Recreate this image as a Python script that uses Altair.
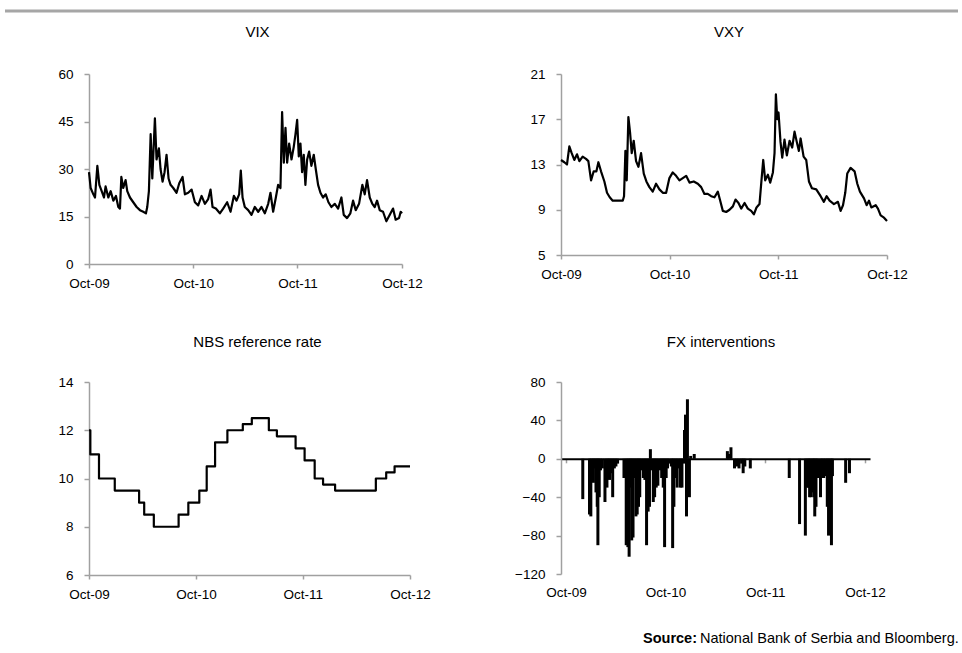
import altair as alt
import pandas as pd
import numpy as np

FONT = "Liberation Sans"
AX_GRAY = "#a0a0a0"

# ---------------- data (x = months since 1 Oct 2009) ----------------
vix_m = [0.0, 0.19, 0.5, 0.69, 0.96, 1.19, 1.46, 1.72, 1.91, 2.22,
         2.49, 2.8, 3.1, 3.37, 3.56, 3.72, 3.94, 4.21, 4.4, 4.71,
         5.09, 5.48, 5.86, 6.24, 6.55, 6.7, 6.89, 7.09, 7.28, 7.58,
         7.77, 8.04, 8.23, 8.46, 8.69, 8.92, 9.15, 9.38, 9.69, 10.07,
         10.38, 10.76, 11.03, 11.41, 11.8, 12.18, 12.56, 12.95, 13.33, 13.71,
         13.98, 14.21, 14.59, 15.05, 15.43, 15.89, 16.28, 16.66, 16.97, 17.27,
         17.46, 17.66, 17.92, 18.31, 18.69, 19.07, 19.46, 19.84, 20.22, 20.61,
         20.87, 21.18, 21.49, 21.75, 22.02, 22.21, 22.41, 22.6, 22.79, 23.02,
         23.29, 23.55, 23.75, 23.94, 24.13, 24.32, 24.51, 24.7, 24.89, 25.09,
         25.32, 25.58, 25.85, 26.08, 26.35, 26.62, 26.92, 27.23, 27.54, 27.88,
         28.27, 28.65, 29.03, 29.3, 29.68, 30.06, 30.37, 30.68, 31.06, 31.44,
         31.71, 31.98, 32.29, 32.59, 32.86, 33.13, 33.44, 33.82, 34.2, 34.58,
         34.97, 35.27, 35.66, 35.85, 36.0]
vix_v = [29, 24, 22, 21, 31, 25, 23, 21, 24.5, 21,
         23, 20, 21.5, 18, 17.5, 27.5, 24, 26.5, 23, 21,
         19.5, 18, 17, 16.5, 16, 18, 23, 41, 27, 46,
         33, 36.5, 30, 26, 29, 34.5, 27, 25, 24, 22.5,
         25.5, 27.5, 22, 22.5, 23.5, 19.5, 18.5, 21.5, 19, 20.5,
         23.5, 18, 17.5, 16, 17.5, 19.5, 16.5, 21.5, 20, 22,
         29.5, 21, 18, 17, 15.5, 18, 16.5, 18, 16, 19,
         22.5, 16.5, 21, 25, 24, 48, 32, 43, 32, 38,
         33, 37, 41, 45.5, 34, 38, 29, 34.5, 25, 33,
         35.5, 31, 34.5, 30, 25, 22.5, 21, 22, 19.5, 18,
         19, 17.5, 21, 15.5, 14.5, 16, 20, 17, 19, 25,
         22, 26.5, 21, 19, 18, 20, 17, 16.5, 13.5, 15.5,
         17.5, 14, 14.5, 16.5, 16]

vxy_m = [0, 0.37, 0.66, 0.92, 1.18, 1.47, 1.77, 2.03, 2.39, 2.76,
         3.02, 3.32, 3.61, 3.91, 4.13, 4.42, 4.79, 5.08, 5.38, 5.71,
         6.08, 6.45, 6.82, 6.96, 7.11, 7.26, 7.44, 7.63, 7.81, 8.03,
         8.29, 8.55, 8.84, 9.14, 9.43, 9.76, 10.13, 10.5, 10.87, 11.24,
         11.61, 11.97, 12.34, 12.71, 13.08, 13.45, 13.82, 14.19, 14.66, 15.11,
         15.48, 15.84, 16.21, 16.58, 16.95, 17.32, 17.61, 17.87, 18.24, 18.61,
         18.98, 19.27, 19.6, 19.9, 20.27, 20.63, 21.0, 21.3, 21.59, 21.92,
         22.18, 22.33, 22.55, 22.85, 23.1, 23.4, 23.58, 23.73, 23.88, 24.02,
         24.24, 24.43, 24.68, 24.94, 25.24, 25.53, 25.79, 26.09, 26.27, 26.46,
         26.79, 27.08, 27.38, 27.71, 28.19, 28.67, 29.03, 29.33, 29.66, 30.14,
         30.58, 30.88, 31.14, 31.39, 31.61, 31.98, 32.42, 32.72, 33.01, 33.46,
         33.75, 34.01, 34.27, 34.75, 35.0, 35.3, 35.67, 36.0]
vxy_v = [13.4, 13.2, 13.0, 14.6, 14.0, 13.4, 13.9, 13.3, 13.7, 13.5,
         13.3, 11.6, 12.4, 12.4, 13.2, 12.4, 11.5, 10.5, 10.1, 9.8,
         9.8, 9.8, 9.8, 10.2, 14.2, 11.6, 17.2, 15.8, 14.0, 15.1,
         13.3, 12.8, 14.0, 12.2, 11.5, 11.0, 10.6, 11.3, 10.8, 10.5,
         10.5, 11.8, 12.3, 12.0, 11.6, 11.8, 12.0, 11.4, 11.5, 11.3,
         11.0, 10.4, 10.4, 10.2, 10.1, 10.6, 9.7, 8.9, 8.8, 9.0,
         9.3, 9.9, 9.6, 9.1, 9.6, 9.1, 8.9, 8.6, 9.2, 9.5,
         12.0, 13.4, 11.6, 12.1, 11.4, 12.3, 14.0, 19.2, 17.0, 17.6,
         15.0, 13.6, 15.2, 13.8, 15.1, 14.5, 15.9, 14.8, 14.2, 15.3,
         13.7, 13.4, 11.5, 10.9, 10.8, 10.2, 9.7, 10.2, 9.8, 9.5,
         9.7, 8.9, 9.4, 10.5, 12.2, 12.7, 12.4, 11.3, 10.6, 10.0,
         9.4, 9.8, 9.2, 9.4, 9.1, 8.5, 8.3, 8.0]

nbs_m = [0, 0.15, 1.12, 2.89, 5.62, 6.19, 7.27, 10.05, 11.14, 12.37, 13.2, 14.14,
         15.52, 17.25, 18.26, 20.17, 21.07, 23.17, 24.18, 25.31, 26.25, 27.6,
         32.17, 33.33, 34.27, 36.0]
nbs_v = [12, 11, 10, 9.5, 9.0, 8.5, 8.0, 8.5, 9.0, 9.5, 10.5, 11.5,
         12.0, 12.25, 12.5, 12.0, 11.75, 11.25, 10.75, 10.0, 9.75, 9.5,
         10.0, 10.25, 10.5, 10.5]

fx_m = [2.02, 2.83, 2.99, 3.14, 3.3, 3.45, 3.61, 3.76, 3.84, 4.0,
        4.15, 4.38, 4.69, 4.93, 5.08, 5.24, 5.43, 5.62, 5.82, 6.01,
        6.21, 6.98, 7.25, 7.45, 7.6, 7.76, 7.91, 8.07, 8.22, 8.42,
        8.57, 8.73, 8.88, 9.04, 9.31, 9.5, 9.7, 9.89, 10.05, 10.16,
        10.28, 10.51, 10.67, 10.86, 11.06, 11.33, 11.52, 11.71, 11.87, 12.06,
        12.22, 12.41, 12.68, 12.84, 12.99, 13.19, 13.38, 13.58, 13.77, 13.96,
        14.16, 14.27, 14.39, 14.51, 14.62, 14.74, 14.86, 15.01, 15.44, 19.43,
        19.59, 19.86, 20.29, 20.55, 20.83, 21.14, 21.33, 21.53, 22.19, 26.88,
        28.12, 28.82, 29.01, 29.2, 29.33, 29.48, 29.67, 29.83, 29.95, 30.1,
        30.29, 30.64, 30.84, 31.03, 31.23, 31.46, 31.61, 31.81, 31.96, 32.08,
        33.67, 34.13]
fx_v = [-42, -58, -60, -22, -25, -10, -35, -50, -90, -40,
        -12, -10, -45, -30, -20, -22, -15, -40, -10, -8,
        -5, -20, -90, -92, -102, -30, -85, -82, -20, -60,
        -58, -50, -40, -12, -20, -22, -90, -55, -50, 10,
        -12, -45, -40, -30, -28, -12, -20, -30, -92, -20,
        -10, -5, -8, -93, -50, -20, -30, -10, -30, -30,
        -5, 30, 46, -60, 62, -20, -40, 3, 5, 8,
        5, 12, -10, -8, -10, -5, -15, -8, -10, -20,
        -68, -80, -30, -30, -40, -40, -35, -40, -60, -50,
        -20, -40, -20, -20, -18, -50, -80, -30, -90, -18,
        -25, -15]

titles = ["VIX", "VXY", "NBS reference rate", "FX interventions"]
source_bold = "Source:"
source_text = "National Bank of Serbia and Bloomberg."

vix_ticks = [0, 15, 30, 45, 60]
vxy_ticks = [5, 9, 13, 17, 21]
nbs_ticks = [6, 8, 10, 12, 14]
fx_ticks = [-120, -80, -40, 0, 40, 80]
tick_years = [2009, 2010, 2011, 2012]

BASE = pd.Timestamp("2009-10-01")
DAYS_PER_MONTH = 1096 / 36.0


def frame(m, v):
    d = BASE + pd.to_timedelta(np.asarray(m, dtype=float) * DAYS_PER_MONTH, unit="D")
    return pd.DataFrame({"date": d, "value": v})


tick_dates = [alt.DateTime(year=y, month=10, date=1) for y in tick_years]
xscale = alt.Scale(domain=[tick_dates[0], tick_dates[-1]])


def xaxis(**kw):
    base = dict(values=tick_dates, format="%b-%y", title=None, labelFlush=False,
                labelOverlap=False, tickSize=4, labelPadding=8)
    base.update(kw)
    return alt.Axis(**base)


def yaxis(vals):
    return alt.Axis(values=vals, title=None, tickSize=5, labelPadding=11)


def label(text, x, y, size=15, weight="normal", align="center"):
    return alt.Chart(pd.DataFrame({"t": [text]})).mark_text(
        align=align, baseline="alphabetic", font=FONT, fontSize=size,
        fontWeight=weight, color="black"
    ).encode(text="t:N", x=alt.value(x), y=alt.value(y))


def line_panel(df, w, h, dom, ticks, interp="linear"):
    return alt.Chart(df).mark_line(
        color="black", strokeWidth=2.2, strokeJoin="round", interpolate=interp
    ).encode(
        x=alt.X("date:T", scale=xscale, axis=xaxis()),
        y=alt.Y("value:Q", scale=alt.Scale(domain=dom, nice=False, zero=False), axis=yaxis(ticks)),
    ).properties(width=w, height=h)


one = pd.DataFrame({"k": [0]})
anchor = alt.Chart(one).mark_rule(strokeWidth=0, opacity=0).encode(
    x=alt.value(-89), x2=alt.value(-88), y=alt.value(-74))
top_rule = alt.Chart(one).mark_rule(color="#a6a6a6", strokeWidth=3).encode(
    x=alt.value(-84), x2=alt.value(869), y=alt.value(-63))

vix = alt.layer(
    anchor, top_rule,
    line_panel(frame(vix_m, vix_v), 313, 190, [0, 60], vix_ticks),
    label(titles[0], 168.5, -37),
).properties(width=313, height=190)

vxy = alt.layer(
    line_panel(frame(vxy_m, vxy_v), 326, 181, [5, 21], vxy_ticks),
    label(titles[1], 168, -37),
).properties(width=326, height=181)

nbs = alt.layer(
    line_panel(frame(nbs_m, nbs_v), 321, 193, [6, 14], nbs_ticks, interp="step-after"),
    label(titles[2], 168.5, -35),
).properties(width=321, height=193)

fx_df = frame(fx_m, fx_v)
FX_H = 192
zero_offset = -(FX_H - FX_H * 80 / 200)
fx_bars = alt.Chart(fx_df).mark_bar(color="black", size=3).encode(
    x=alt.X("date:T", scale=xscale,
            axis=xaxis(domain=False, ticks=False, tickSize=0, labelPadding=11.5, orient="bottom")),
    y=alt.Y("value:Q", scale=alt.Scale(domain=[-120, 80], nice=False), axis=yaxis(fx_ticks)),
)
fx_zero = alt.Chart(pd.DataFrame({"date": [BASE]})).mark_point(opacity=0).encode(
    x=alt.X("date:T", scale=xscale,
            axis=xaxis(labels=False, domainColor="black", domainWidth=2, offset=zero_offset,
                       orient="bottom", tickSize=4)),
)
fx = alt.layer(
    fx_zero, fx_bars,
    label(titles[3], 160, -35),
    label(source_bold, 82, 261, size=14.5, weight="bold", align="left"),
    label(source_text, 139, 261, size=14.5, align="left"),
).resolve_axis(x="independent").properties(width=309, height=FX_H)

chart = alt.concat(
    vix, vxy, nbs, fx,
    columns=2,
    spacing=alt.RowColnumber(row=118, column=151),
    bounds="flush",
    align=alt.RowColLayoutAlign(row="each", column="none"),
).properties(
    padding={"left": 0, "top": 0, "right": 0, "bottom": 0},
    background="white",
).configure_view(stroke=None).configure_axis(
    labelFont=FONT, labelFontSize=13.5, labelColor="black",
    domainColor=AX_GRAY, domainWidth=1.5, tickColor=AX_GRAY, tickWidth=1.5,
    grid=False,
)

chart.save("out.html", embed_options={"renderer": "svg", "actions": False})
